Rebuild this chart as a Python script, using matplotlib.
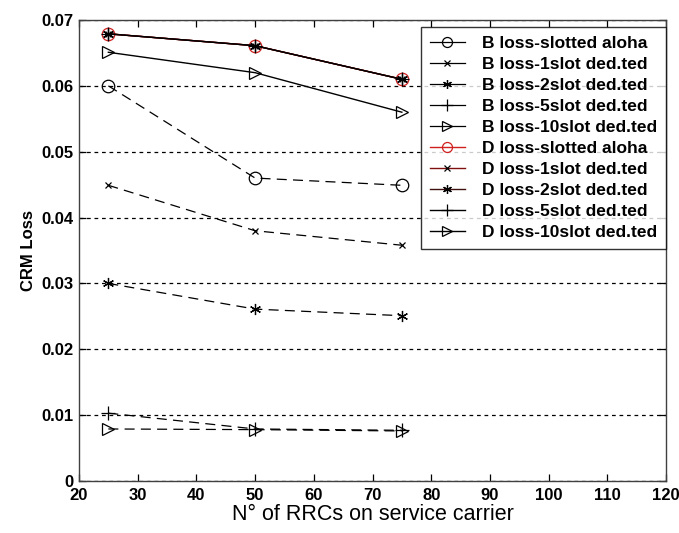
import matplotlib
matplotlib.use('Agg')
import matplotlib.pyplot as plt

plt.rcParams['font.family'] = ['Liberation Sans', 'DejaVu Sans']

# datos
rrcs = [25, 50, 75]

b_aloha = [0.0600, 0.0460, 0.0449]
b_1slot = [0.0449, 0.0380, 0.0358]
b_2slot = [0.0300, 0.0261, 0.0251]
b_5slot = [0.0103, 0.0079, 0.0077]
b_10slot = [0.0079, 0.0078, 0.0076]

d_aloha = [0.0679, 0.0661, 0.0610]
d_1slot = [0.0679, 0.0661, 0.0610]
d_2slot = [0.0679, 0.0661, 0.0610]
d_5slot = [0.0679, 0.0661, 0.0610]
d_10slot = [0.0651, 0.0620, 0.0560]

labels = ['B loss-slotted aloha', 'B loss-1slot ded.ted', 'B loss-2slot ded.ted',
          'B loss-5slot ded.ted', 'B loss-10slot ded.ted',
          'D loss-slotted aloha', 'D loss-1slot ded.ted', 'D loss-2slot ded.ted',
          'D loss-5slot ded.ted', 'D loss-10slot ded.ted']

fig = plt.figure(figsize=(6.79, 5.33), dpi=100)
ax = fig.add_axes([79 / 679, 52 / 533, 587 / 679, 461 / 533])

dash = (0, (8, 5))
star = (6, 2, 0)
sizes = {'o': 9, 'x': 5, star: 8, '+': 10, '>': 9}

b_series = [(b_aloha, 'o'), (b_1slot, 'x'), (b_2slot, star), (b_5slot, '+'), (b_10slot, '>')]
for (vals, mk), lab in zip(b_series, labels[:5]):
    ax.plot(rrcs, vals, color='k', linestyle=dash, linewidth=0.9, marker=mk,
            markersize=sizes[mk], markerfacecolor='none', markeredgecolor='k',
            markeredgewidth=0.9, label=lab)

d_series = [(d_aloha, 'o', '#d02020'), (d_1slot, 'x', '#801010'), (d_2slot, star, '#401010'),
            (d_5slot, '+', 'k'), (d_10slot, '>', 'k')]
for (vals, mk, col), lab in zip(d_series, labels[5:]):
    mec = col if mk == 'o' else 'k'
    ax.plot(rrcs, vals, color=col, linestyle='-', linewidth=1.0, marker=mk,
            markersize=sizes[mk], markerfacecolor='none', markeredgecolor=mec,
            markeredgewidth=0.9, label=lab)

ax.set_xlim(20, 120)
ax.set_ylim(0, 0.07)
ax.set_xticks(range(20, 121, 10))
ax.set_yticks([0, 0.01, 0.02, 0.03, 0.04, 0.05, 0.06, 0.07])
ax.set_yticklabels(['0', '0.01', '0.02', '0.03', '0.04', '0.05', '0.06', '0.07'])
ax.yaxis.grid(True, color='k', linestyle=(0, (3, 3)), linewidth=0.9)
ax.tick_params(direction='in', top=True, right=True, length=5, width=0.9,
               labelsize=12)
ax.tick_params(axis='x', pad=5)
ax.tick_params(axis='y', pad=4)
for t in ax.get_xticklabels() + ax.get_yticklabels():
    t.set_fontweight('bold')
for s in ax.spines.values():
    s.set_color('#404040')
    s.set_linewidth(1.0)

ax.set_xlabel('N° of RRCs on service carrier', fontsize=15.5, labelpad=1)
ax.set_ylabel('CRM Loss', fontsize=12, fontweight='bold', labelpad=4)

leg = ax.legend(loc='upper right', bbox_to_anchor=(1.0, 1 - 7 / 461), borderaxespad=0,
                prop={'weight': 'bold', 'size': 12.5}, frameon=True, fancybox=False,
                handlelength=2.0, labelspacing=0.34, borderpad=0.5, handletextpad=1.0,
                markerscale=0.8)
leg.get_frame().set_edgecolor('k')
leg.get_frame().set_linewidth(1.0)
for ln in leg.get_lines():
    ln.set_linestyle('-')

fig.savefig('out.png', dpi=100)
